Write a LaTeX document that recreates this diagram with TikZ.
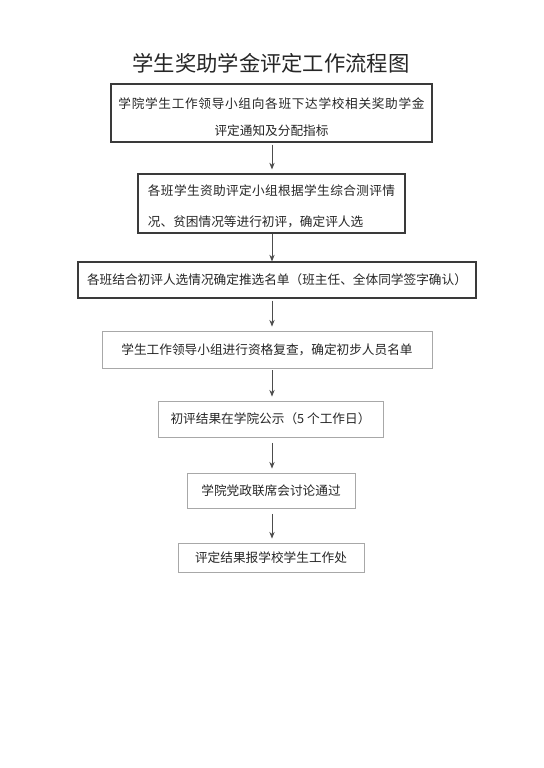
\documentclass[tikz,border=0pt]{standalone}
\usepackage{fontspec}
\setmainfont{Noto Sans CJK SC}
\usetikzlibrary{arrows.meta,positioning}
\definecolor{Ink}{HTML}{262626}
\definecolor{Dark}{HTML}{3A3A3A}
\definecolor{Pale}{HTML}{A8A8A8}
\definecolor{Wire}{HTML}{4D4D4D}
\tikzset{darkbox/.style={draw=Dark,line width=0.9pt,align=center,inner sep=0pt,text=Ink},paleox/.style={draw=Pale,line width=0.7pt,align=center,inner sep=0pt,text=Ink},flow/.style={-{Stealth[length=5pt,width=4pt]},line width=0.7pt,draw=Wire,shorten <=1.5pt,shorten >=3pt}}

\begin{document}
\begin{tikzpicture}[x=0.75pt,y=-0.75pt,font=\fontsize{9.5}{12}\selectfont]
\fill[white] (0,0) rectangle (543,768);
\useasboundingbox (0,0) rectangle (543,768);
\coordinate (spine) at (272,0);
\node[text=Ink,font=\fontsize{16}{19}\selectfont] (title) at (271,63) {学生奖助学金评定工作流程图};
% first line is spread out, text sits a little low in the frame
\node[darkbox,minimum width=240.75pt,minimum height=43.5pt,font=\fontsize{9.5}{20.25}\selectfont] (b1) at (271.5,113) {\rule{0pt}{14.5pt}{\addfontfeature{LetterSpace=5.3}学院学生工作领导小组向各班下达学校相关奖助学金}\\评定通知及分配指标};
\node[darkbox,align=left,minimum width=200.25pt,minimum height=44.25pt,font=\fontsize{9.5}{23.25}\selectfont] (b2) at (271.5,203.5) {\rule{0pt}{12.9pt}{\addfontfeature{LetterSpace=2.8}各班学生资助评定小组根据学生综合测评情}\\况、贫困情况等进行初评，确定评人选};
\node[darkbox,minimum width=298.5pt,minimum height=27pt] (b3) at (277,280) {各班结合初评人选情况确定推选名单（班主任、全体同学签字确认）};
\node[paleox,minimum width=247.5pt,minimum height=27.75pt] (b4) at (267,349.5) {学生工作领导小组进行资格复查，确定初步人员名单};
\node[paleox,minimum width=168.75pt,minimum height=27pt] (b5) at (270.5,419) {初评结果在学院公示（5 个工作日）};
\node[paleox,minimum width=126pt,minimum height=26.25pt] (b6) at (271,490.5) {学院党政联席会讨论通过};
\node[paleox,minimum width=139.5pt,minimum height=21.75pt] (b7) at (271,557.5) {评定结果报学校学生工作处};
\draw[flow] (b1.south -| spine) -- (b2.north -| spine);
\draw[flow,shorten <=0pt,shorten >=0pt] (b2.south -| spine) -- (b3.north -| spine);
\draw[flow] (b3.south -| spine) -- (b4.north -| spine);
\draw[flow] (b4.south -| spine) -- (b5.north -| spine);
\draw[flow,shorten <=4pt] (b5.south -| spine) -- (b6.north -| spine);
\draw[flow,shorten <=4pt] (b6.south -| spine) -- (b7.north -| spine);
\end{tikzpicture}
\end{document}
